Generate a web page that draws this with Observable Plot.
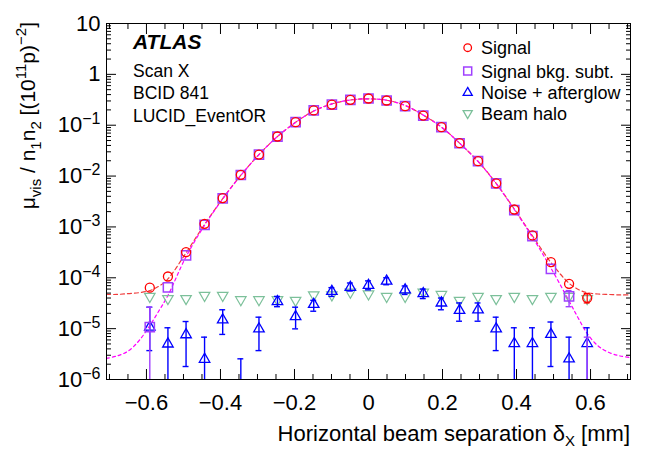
<!DOCTYPE html>
<html><head><meta charset="utf-8">
<script src="https://cdn.jsdelivr.net/npm/d3@7"></script>
<script src="https://cdn.jsdelivr.net/npm/@observablehq/plot@0.6"></script>
<style>
html,body{margin:0;padding:0;background:#fff;}
#chart{width:664px;height:451px;}
</style></head><body><div id="chart"></div>
<script>
// ---- data ----
const scanX = [-0.591,-0.542,-0.493,-0.443,-0.394,-0.345,-0.296,-0.246,-0.197,-0.148,-0.099,-0.049,0,
  0.049,0.099,0.148,0.197,0.246,0.296,0.345,0.394,0.443,0.493,0.542,0.591];
const signal = [6.4e-5,1.06e-4,3.2e-4,1.15e-3,3.7e-3,1.06e-2,2.65e-2,6.0e-2,0.115,0.195,0.255,0.316,0.335,
  0.306,0.237,0.155,0.0914,0.0443,0.0196,7.2e-3,2.2e-3,6.8e-4,2.03e-4,7.6e-5,4.0e-5];
const signalHi = [null,null,null,null,null,null,null,null,null,null,null,null,null,
  null,null,null,null,null,null,null,null,null,null,null,4.9e-5];
const signalLo = [null,null,null,null,null,null,null,null,null,null,null,null,null,
  null,null,null,null,null,null,null,null,null,null,null,3.2e-5];
const signalBkgSubt = [1.07e-5,6.5e-5,2.75e-4,1.1e-3,3.65e-3,1.05e-2,2.64e-2,5.99e-2,0.115,0.195,0.255,0.316,0.335,
  0.306,0.237,0.155,0.0913,0.0442,0.0196,7.15e-3,2.15e-3,6.6e-4,1.5e-4,4.3e-5,3e-7];
const bkgSubtHi = [2.64e-5,null,null,null,null,null,null,null,null,null,null,null,null,
  null,null,null,null,null,null,null,null,null,null,5.6e-5,6.8e-6];
const bkgSubtLo = [1e-7,null,null,null,null,null,null,null,null,null,null,null,null,
  null,null,null,null,null,null,null,null,null,null,2.7e-5,1e-7];
const noise = [1.07e-5,5.0e-6,7.6e-6,2.5e-6,1.49e-5,3e-7,9.9e-6,3.4e-5,1.73e-5,3.0e-5,5.4e-5,6.5e-5,7.1e-5,
  8.6e-5,5.8e-5,4.9e-5,3.2e-5,2.28e-5,2.35e-5,9.9e-6,5.1e-6,5.1e-6,7.7e-6,2.55e-6,5.1e-6];
const noiseHi = [2.64e-5,1.04e-5,1.38e-5,6.8e-6,2.35e-5,2.55e-6,1.68e-5,4.3e-5,2.64e-5,3.6e-5,6.4e-5,7.9e-5,8.7e-5,
  1.0e-4,6.9e-5,6.0e-5,4.0e-5,3.2e-5,3.2e-5,1.68e-5,1.04e-5,1.04e-5,1.35e-5,6.8e-6,1.04e-5];
const noiseLo = [3.7e-6,1e-7,1.8e-6,1e-7,7.7e-6,1e-7,3.7e-6,2.7e-5,9.9e-6,2.2e-5,4.3e-5,5.5e-5,5.8e-5,
  7.3e-5,4.7e-5,3.9e-5,2.35e-5,1.4e-5,1.4e-5,3.7e-6,1e-7,1e-7,1.8e-6,1e-7,1e-7];
const beamHalo = [4.3e-5,3.9e-5,3.9e-5,4.5e-5,4.5e-5,3.7e-5,3.7e-5,3.7e-5,3.6e-5,4.6e-5,4.6e-5,5.2e-5,4.8e-5,
  4.3e-5,4.3e-5,5.2e-5,4.7e-5,3.6e-5,4.3e-5,3.9e-5,4.3e-5,3.9e-5,4.3e-5,4.3e-5,3.9e-5];

// fitted curves
const fitX = [-0.708,-0.68,-0.65,-0.62,-0.591,-0.567,-0.542,-0.493,-0.443,-0.394,-0.345,-0.296,-0.246,-0.197,-0.148,-0.099,-0.049,0,
  0.049,0.099,0.148,0.197,0.246,0.296,0.345,0.394,0.443,0.493,0.542,0.567,0.591,0.62,0.65,0.68,0.708];
const signalFit = [4.7e-5,4.7e-5,4.9e-5,5.1e-5,5.6e-5,6.8e-5,9.5e-5,3.1e-4,1.12e-3,3.6e-3,1.04e-2,2.65e-2,6.0e-2,0.114,0.19,0.262,0.313,0.33,
  0.31,0.245,0.158,0.092,0.0445,0.0195,7.2e-3,2.25e-3,6.7e-4,2.0e-4,7.8e-5,5.9e-5,5.1e-5,4.8e-5,4.7e-5,4.6e-5,4.6e-5];
const bkgSubtFit = [2.6e-6,2.9e-6,3.6e-6,5.8e-6,1.15e-5,2.2e-5,4.5e-5,2.6e-4,1.08e-3,3.55e-3,1.03e-2,2.64e-2,6.0e-2,0.114,0.19,0.262,0.313,0.33,
  0.31,0.245,0.158,0.092,0.0444,0.0194,7.1e-3,2.2e-3,6.3e-4,1.55e-4,3.5e-5,1.6e-5,8e-6,4.6e-6,3.4e-6,2.9e-6,2.7e-6];

// axes
const xTicksMajor = [-0.6,-0.4,-0.2,0,0.2,0.4,0.6];
const xTickLabels = ["\u22120.6","\u22120.4","\u22120.2","0","0.2","0.4","0.6"];
const xTicksMinor = [-0.7,-0.65,-0.55,-0.5,-0.45,-0.35,-0.3,-0.25,-0.15,-0.1,-0.05,0.05,0.1,0.15,0.25,0.3,0.35,0.45,0.5,0.55,0.65,0.7];
const yTicksMajor = [1e-6,1e-5,1e-4,1e-3,1e-2,1e-1,1,10];
const yTickLabels = ["10^\u22126","10^\u22125","10^\u22124","10^\u22123","10^\u22122","10^\u22121","1","10"];
const yTicksMinor = [];
for (const p of [1e-6,1e-5,1e-4,1e-3,1e-2,1e-1,1]) for (const m of [2,3,4,5,6,7,8,9]) yTicksMinor.push(m*p);

const legendLabels = ["Signal","Signal bkg. subt.","Noise + afterglow","Beam halo"];
const infoLines = ["Scan X","BCID 841","LUCID_EventOR"];

const cRed = "#ff0000", cViolet = "#a040ff", cBlue = "#0000ff", cGreen = "#7cc09a";

// ---- tables ----
const pts = scanX.map((x,i) => ({x, signal: signal[i], sHi: signalHi[i], sLo: signalLo[i],
  bkg: signalBkgSubt[i], bHi: bkgSubtHi[i], bLo: bkgSubtLo[i],
  noise: noise[i], nHi: noiseHi[i], nLo: noiseLo[i], halo: beamHalo[i]}));
const sErr = pts.filter(d => d.sHi != null);
const bErr = pts.filter(d => d.bHi != null);
const fits = fitX.map((x,i) => ({x, s: signalFit[i], b: bkgSubtFit[i]}));
const cap = 0.008;

const font = '"Liberation Sans", Arial, Helvetica, sans-serif';

function errMarks(data, lo, hi, color, w) {
  return [
    Plot.ruleX(data, {x: "x", y1: lo, y2: hi, stroke: color, strokeWidth: w, clip: true}),
    Plot.ruleY(data, {y: hi, x1: d => d.x - cap, x2: d => d.x + cap, stroke: color, strokeWidth: w, clip: true}),
    Plot.ruleY(data, {y: lo, x1: d => d.x - cap, x2: d => d.x + cap, stroke: color, strokeWidth: w, clip: true})
  ];
}

const svg = Plot.plot({
  width: 664, height: 451,
  marginLeft: 106, marginRight: 34, marginTop: 23, marginBottom: 72,
  style: {fontFamily: font, fontSize: "22px", color: "#000", background: "#fff", overflow: "visible"},
  x: {domain: [-0.708, 0.708]},
  y: {type: "log", domain: [1e-6, 10]},
  marks: [
    Plot.line(fits, {x: "x", y: "s", stroke: "#f03c3c", strokeWidth: 1.2, strokeDasharray: "4,3", curve: "catmull-rom", clip: true}),
    Plot.line(fits, {x: "x", y: "b", stroke: "#ff00ff", strokeWidth: 1.2, strokeDasharray: "3,3", curve: "catmull-rom", clip: true}),
    Plot.dot(pts, {x: "x", y: "halo", symbol: "triangle", rotate: 180, r: 3.9, stroke: cGreen, strokeWidth: 1.2, fill: "none", clip: true}),
    ...errMarks(pts, "nLo", "nHi", cBlue, 1.4),
    Plot.dot(pts, {x: "x", y: "noise", symbol: "triangle", r: 3.9, stroke: cBlue, strokeWidth: 1.3, fill: "none", clip: true}),
    ...errMarks(bErr, "bLo", "bHi", cViolet, 1.4),
    Plot.dot(pts, {x: "x", y: "bkg", symbol: "square", r: 5.2, stroke: cViolet, strokeWidth: 1.5, fill: "none", clip: true}),
    ...errMarks(sErr, "sLo", "sHi", cRed, 1.2),
    Plot.dot(pts, {x: "x", y: "signal", symbol: "circle", r: 4.5, stroke: cRed, strokeWidth: 1.3, fill: "none", clip: true}),
    Plot.frame({stroke: "#000", strokeWidth: 1}),
    // x axes (inward ticks, bottom + top)
    Plot.axisX(xTicksMinor, {anchor: "bottom", tickSize: -5, tickFormat: () => "", label: null}),
    Plot.axisX(xTicksMinor, {anchor: "top", tickSize: -5, tickFormat: () => "", label: null}),
    Plot.axisX(xTicksMajor, {anchor: "top", tickSize: -10, tickFormat: () => "", label: null}),
    Plot.axisX(xTicksMajor, {anchor: "bottom", tickSize: -10, tickPadding: 25, label: null,
      tickFormat: d => xTickLabels[xTicksMajor.indexOf(d)], fontSize: 22}),
    // y axes (inward ticks, left + right)
    Plot.axisY(yTicksMinor, {anchor: "left", tickSize: -5, tickFormat: () => "", label: null}),
    Plot.axisY(yTicksMinor, {anchor: "right", tickSize: -5, tickFormat: () => "", label: null}),
    Plot.axisY(yTicksMajor, {anchor: "right", tickSize: -10, tickFormat: () => "", label: null}),
    Plot.axisY(yTicksMajor, {anchor: "left", tickSize: -10, tickPadding: 16, label: null,
      tickFormat: d => yTickLabels[yTicksMajor.indexOf(d)], fontSize: 22})
  ]
});
document.getElementById("chart").appendChild(svg);

const s = d3.select(svg);
// superscripts in y tick labels
s.selectAll('g[aria-label="y-axis tick label"] text').each(function() {
  const t = this.textContent;
  if (t.includes("^")) {
    const [b, e] = t.split("^");
    this.textContent = b;
    d3.select(this).append("tspan").attr("dy", "-8").attr("font-size", "16px").text(e);
  }
});

const g = s.append("g").attr("font-family", font).attr("fill", "#000").attr("text-anchor", "start");
// y title
const yt = g.append("text").attr("transform", "translate(35,22) rotate(-90)").attr("text-anchor", "end").attr("font-size", 21);
yt.append("tspan").text("\u03bc");
yt.append("tspan").attr("dy", 6).attr("font-size", 15).text("vis");
yt.append("tspan").attr("dy", -6).text(" / n");
yt.append("tspan").attr("dy", 6).attr("font-size", 15).text("1");
yt.append("tspan").attr("dy", -6).text("n");
yt.append("tspan").attr("dy", 6).attr("font-size", 15).text("2");
yt.append("tspan").attr("dy", -6).text(" [(10");
yt.append("tspan").attr("dy", -9).attr("font-size", 15).text("11");
yt.append("tspan").attr("dy", 9).text("p)");
yt.append("tspan").attr("dy", -9).attr("font-size", 15).text("\u22122");
yt.append("tspan").attr("dy", 9).text("]");
// x title
const xt = g.append("text").attr("x", 630).attr("y", 441).attr("text-anchor", "end").attr("font-size", 22);
xt.append("tspan").text("Horizontal beam separation \u03b4");
xt.append("tspan").attr("dy", 5).attr("font-size", 15).text("X");
xt.append("tspan").attr("dy", -5).text(" [mm]");
// ATLAS block
g.append("text").attr("x", 133).attr("y", 49).attr("font-size", 21).attr("font-weight", "bold").attr("font-style", "italic").text("ATLAS");
infoLines.forEach((t, i) => g.append("text").attr("x", 133).attr("y", 76.5 + i * 22.5).attr("font-size", 17.5).text(t));
// legend
const ly = [47.7, 71, 92.7, 113.3], lx = 467.7;
legendLabels.forEach((t, i) => g.append("text").attr("x", 481).attr("y", ly[i] + 6.5).attr("font-size", 18).text(t));
g.append("circle").attr("cx", lx).attr("cy", ly[0]).attr("r", 3.8).attr("fill", "none").attr("stroke", cRed).attr("stroke-width", 1.3);
g.append("rect").attr("x", lx - 4).attr("y", ly[1] - 4).attr("width", 8).attr("height", 8).attr("fill", "none").attr("stroke", cViolet).attr("stroke-width", 1.5);
g.append("path").attr("d", d3.symbol(d3.symbolTriangle, 36)()).attr("transform", `translate(${lx},${ly[2]})`).attr("fill", "none").attr("stroke", cBlue).attr("stroke-width", 1.3);
g.append("path").attr("d", d3.symbol(d3.symbolTriangle, 36)()).attr("transform", `translate(${lx},${ly[3]}) rotate(180)`).attr("fill", "none").attr("stroke", cGreen).attr("stroke-width", 1.3);
</script>
</body></html>
